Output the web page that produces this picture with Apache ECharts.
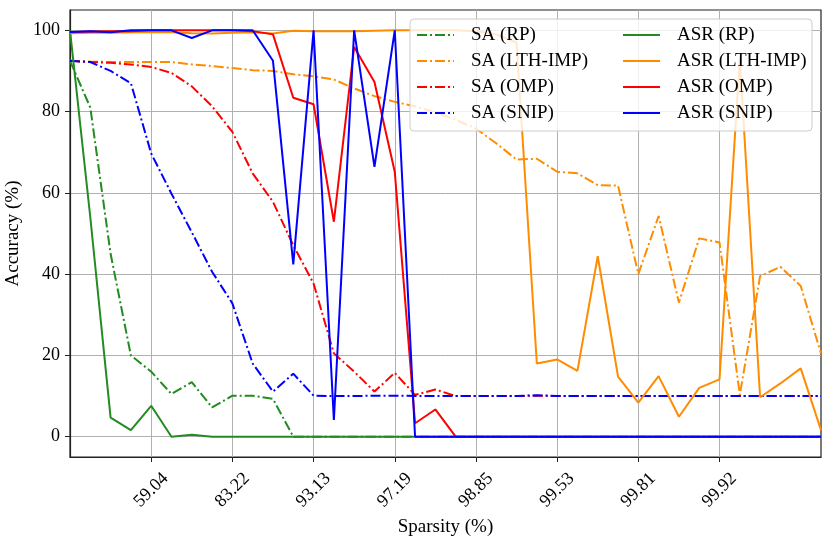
<!DOCTYPE html>
<html>
<head>
<meta charset="utf-8">
<script src="https://cdn.jsdelivr.net/npm/echarts/dist/echarts.min.js"></script>
<style>
  html, body { margin: 0; padding: 0; background: #fff; }
  #main { width: 831px; height: 541px; }
</style>
</head>
<body>
<div id="main"></div>
<script>
// sparsity levels (%), x axis categories
var sparsity = ['0.00', '20.00', '36.00', '48.80', '59.04', '67.23', '73.79', '79.03', '83.22', '86.58',
    '89.26', '91.41', '93.13', '94.50', '95.60', '96.48', '97.19', '97.75', '98.20', '98.56',
    '98.85', '99.08', '99.26', '99.41', '99.53', '99.62', '99.70', '99.76', '99.81', '99.85',
    '99.88', '99.90', '99.92', '99.94', '99.95', '99.96', '99.97', '99.97'];
var xTickIdx = [4, 8, 12, 16, 20, 24, 28, 32];
var yTicks = [0, 20, 40, 60, 80, 100];

// standard accuracy
var saRP = [92.5, 81.0, 45.0, 20.0, 16.0, 10.5, 13.4, 7.2, 10.1, 10.1, 9.3, 0, 0, 0, 0, 0, 0, 0, 0, 0,
    0, 0, 0, 0, 0, 0, 0, 0, 0, 0, 0, 0, 0, 0, 0, 0, 0, 0];
var saLTH = [92.5, 92.3, 92.2, 92.2, 92.2, 92.2, 91.6, 91.2, 90.7, 90.2, 90.0, 89.2, 88.7, 87.9, 85.7, 83.8,
    82.4, 81.3, 79.8, 78.0, 75.8, 72.2, 68.2, 68.4, 65.2, 64.8, 61.9, 61.8, 40.0, 54.3, 33.0, 48.8, 47.8,
    10.3, 39.5, 41.8, 37.1, 20.5];
var saOMP = [92.5, 92.2, 92.0, 91.6, 91.0, 89.5, 86.2, 81.3, 75.0, 64.8, 57.8, 47.1, 37.7, 20.5, 16.0, 11.1,
    15.7, 10.3, 11.6, 10.0, 10.0, 10.0, 10.0, 10.1, 10.0, 10.0, 10.0, 10.0, 10.0, 10.0, 10.0, 10.0, 10.0,
    10.0, 10.0, 10.0, 10.0, 10.0];
var saSNIP = [92.5, 92.2, 90.0, 87.0, 69.7, 59.8, 50.3, 40.6, 32.8, 18.0, 11.1, 15.5, 10.1, 10.0, 10.0, 10.1,
    10.1, 10.0, 10.0, 10.0, 10.0, 10.0, 10.0, 10.2, 10.0, 10.0, 10.0, 10.0, 10.0, 10.0, 10.0, 10.0, 10.0,
    10.0, 10.0, 10.0, 10.0, 10.0];

// attack success rate
var asrRP = [100, 54.0, 4.7, 1.6, 7.6, 0, 0.5, 0, 0, 0, 0, 0, 0, 0, 0, 0, 0, 0, 0, 0,
    0, 0, 0, 0, 0, 0, 0, 0, 0, 0, 0, 0, 0, 0, 0, 0, 0, 0];
var asrLTH = [99.3, 99.4, 99.4, 99.5, 99.5, 99.5, 99.3, 99.2, 99.4, 99.5, 99.2, 99.9, 99.8, 99.8, 99.8, 99.9,
    100, 100, 100, 100, 99.8, 99.0, 97.0, 18.0, 19.0, 16.2, 44.4, 14.8, 8.4, 14.9, 4.9, 12.0, 14.1,
    93.0, 9.7, 13.1, 16.8, 1.6];
var asrOMP = [99.5, 99.7, 99.8, 99.8, 100, 100, 100, 100, 100, 99.8, 99.0, 83.4, 81.8, 52.9, 95.9, 87.3,
    65.2, 3.3, 6.7, 0, 0, 0, 0, 0, 0, 0, 0, 0, 0, 0, 0, 0, 0, 0, 0, 0, 0, 0];
var asrSNIP = [99.6, 99.8, 99.5, 100, 100, 100, 98.1, 100, 100, 100, 92.5, 42.4, 100, 4.1, 100, 66.4,
    100, 0, 0, 0, 0, 0, 0, 0, 0, 0, 0, 0, 0, 0, 0, 0, 0, 0, 0, 0, 0, 0];

var serif = 'Liberation Serif';
var dashDot = [10, 3, 2, 3];
var showTick = function (idx) { return xTickIdx.indexOf(idx) >= 0; };

var mkLine = function (name, data, color, dashed) {
    return {
        name: name,
        type: 'line',
        data: data,
        symbol: 'none',
        lineStyle: { color: color, width: 2, type: dashed ? dashDot : 'solid' },
        itemStyle: { color: color },
        emphasis: { disabled: true }
    };
};

var mkLegend = function (left, names) {
    return {
        data: names,
        orient: 'vertical',
        left: left,
        top: 25,
        padding: 0,
        itemWidth: 37,
        itemHeight: 14,
        itemGap: 6,
        z: 20,
        // hide the marker dot, keep the line sample
        itemStyle: { color: 'rgba(0,0,0,0)', borderWidth: 0, opacity: 0 },
        textStyle: { fontFamily: serif, fontSize: 19, color: '#000', lineHeight: 20, padding: [0, 0, 0, 12] }
    };
};

var chart = echarts.init(document.getElementById('main'));
var option = {
    animation: false,
    grid: {
        left: 70, right: 10, top: 10, bottom: 84,
        outerBoundsMode: 'none',
        show: true, borderColor: '#222', borderWidth: 1.2
    },
    legend: [
        mkLegend(416, ['SA (RP)', 'SA (LTH-IMP)', 'SA (OMP)', 'SA (SNIP)']),
        mkLegend(622, ['ASR (RP)', 'ASR (LTH-IMP)', 'ASR (OMP)', 'ASR (SNIP)'])
    ],
    graphic: [{
        type: 'rect',
        z: 15,
        shape: { x: 410, y: 19, width: 402, height: 112, r: 4 },
        style: { fill: 'rgba(255,255,255,0.8)', stroke: '#cccccc', lineWidth: 1 }
    }],
    xAxis: {
        type: 'category',
        data: sparsity,
        boundaryGap: false,
        name: 'Sparsity (%)',
        nameLocation: 'middle',
        nameGap: 52,
        nameTextStyle: { fontFamily: serif, fontSize: 19, color: '#000' },
        axisLine: { onZero: false, lineStyle: { color: '#222', width: 1.2 } },
        axisTick: { interval: showTick, length: 5, lineStyle: { color: '#222' } },
        axisLabel: {
            interval: showTick, rotate: 45, align: 'center', verticalAlign: 'middle', margin: 33,
            fontFamily: serif, fontSize: 18, color: '#000'
        },
        splitLine: { show: true, interval: showTick, lineStyle: { color: '#b0b0b0', width: 1 } }
    },
    yAxis: {
        type: 'value',
        min: -5,
        max: 105,
        name: 'Accuracy (%)',
        nameLocation: 'middle',
        nameGap: 42,
        nameTextStyle: { fontFamily: serif, fontSize: 19, color: '#000' },
        axisLine: { show: true, lineStyle: { color: '#222', width: 1.2 } },
        axisTick: { show: true, length: 5, customValues: yTicks, lineStyle: { color: '#222' } },
        axisLabel: { customValues: yTicks, margin: 10, fontFamily: serif, fontSize: 18, color: '#000' },
        splitLine: { show: true, lineStyle: { color: '#b0b0b0', width: 1 } }
    },
    series: [
        mkLine('SA (RP)', saRP, '#228B22', true),
        mkLine('SA (LTH-IMP)', saLTH, '#FF8C00', true),
        mkLine('SA (OMP)', saOMP, '#FF0000', true),
        mkLine('SA (SNIP)', saSNIP, '#0000FF', true),
        mkLine('ASR (RP)', asrRP, '#228B22', false),
        mkLine('ASR (LTH-IMP)', asrLTH, '#FF8C00', false),
        mkLine('ASR (OMP)', asrOMP, '#FF0000', false),
        mkLine('ASR (SNIP)', asrSNIP, '#0000FF', false)
    ]
};
chart.setOption(option);
</script>
</body>
</html>
